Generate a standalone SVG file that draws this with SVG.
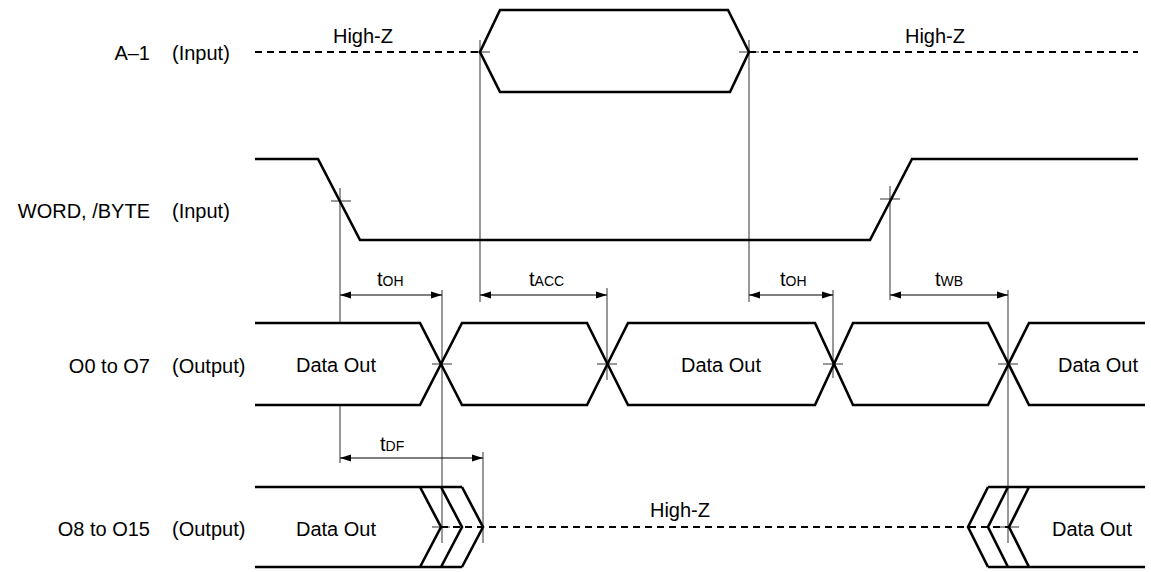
<svg xmlns="http://www.w3.org/2000/svg" width="1151" height="572" viewBox="0 0 1151 572">
<style>
.w{fill:none;stroke:#000;stroke-width:2.6;stroke-linejoin:miter}
.d{fill:none;stroke:#000;stroke-width:2.2;stroke-dasharray:7,5}
.r{fill:none;stroke:#555;stroke-width:1.2}
.k{fill:none;stroke:#333;stroke-width:1.2}
.a{fill:none;stroke:#000;stroke-width:1.2;marker-start:url(#ah);marker-end:url(#ah)}
text{font-family:"Liberation Sans",Arial,Helvetica,sans-serif;font-size:20px;fill:#000}
.e{text-anchor:end}
.m{text-anchor:middle}
.s{font-size:14px}
</style>
<defs>
<marker id="ah" markerUnits="userSpaceOnUse" markerWidth="12" markerHeight="8" refX="11" refY="4" orient="auto-start-reverse">
<path d="M0,0.5 L11,4 L0,7.5 z" fill="#000"/>
</marker>
</defs>
<g id="labels">
<text class="e" x="150" y="60">A–1</text><text x="172" y="60">(Input)</text>
<text class="e" x="150" y="218">WORD, /BYTE</text><text x="172" y="218">(Input)</text>
<text class="e" x="150" y="373">O0 to O7</text><text x="172" y="373">(Output)</text>
<text class="e" x="150" y="536">O8 to O15</text><text x="172" y="536">(Output)</text>
</g>
<g id="connectors">
<path class="r" d="M480,40 V302 M749,40 V302 M340,188 V323 M340,405 V463 M890,186 V300 M442,290 V543 M607,288 V380 M833,290 V378 M1008,290 V543 M483,452 V543"/>
<path class="k" d="M470,52 H490 M739,52 H759 M331,201 H351 M880,199 H900 M432,364 H452 M597,364 H617 M823,364 H843 M998,364 H1018 M432,527 H450 M999,527 H1019"/>
<path class="a" d="M340,295 H442"/>
<path class="a" d="M480,295 H607"/>
<path class="a" d="M749,295 H833"/>
<path class="a" d="M890,295 H1008"/>
<path class="a" d="M340,458 H483"/>
</g>
<g id="timing-labels">
<text x="377" y="286">t<tspan class="s">OH</tspan></text>
<text x="529" y="286">t<tspan class="s">ACC</tspan></text>
<text x="780" y="286">t<tspan class="s">OH</tspan></text>
<text x="935" y="286">t<tspan class="s">WB</tspan></text>
<text x="380" y="451">t<tspan class="s">DF</tspan></text>
</g>
<g id="a1">
<path class="d" d="M255,52 H480 M749,52 H1138"/>
<path class="w" d="M480,52 L500,10 H728 L749,52 L730,92 H500 Z"/>
<text class="m" x="363" y="43">High-Z</text>
<text class="m" x="935" y="43">High-Z</text>
</g>
<g id="word">
<path class="w" d="M255,159 H318 L360,240 H870 L912,159 H1138"/>
</g>
<g id="o0">
<path class="w" d="M255,323 H420 L462,405 H587 L628,323 H815 L853,405 H988 L1029,323 H1145"/>
<path class="w" d="M255,405 H420 L462,323 H587 L628,405 H815 L853,323 H988 L1029,405 H1145"/>
<text x="296" y="372">Data Out</text>
<text class="m" x="721" y="372">Data Out</text>
<text x="1058" y="372">Data Out</text>
</g>
<g id="o8">
<path class="d" d="M441,527 H1009"/>
<path class="w" d="M255,487 H462 M255,567 H462 M420,487 L441,527 L420,567 M441,487 L462,527 L441,567 M462,487 L483,527 L462,567"/>
<path class="w" d="M988,487 H1145 M988,567 H1145 M988,487 L968,527 L988,567 M1008,487 L988,527 L1008,567 M1029,487 L1009,527 L1029,567"/>
<text x="296" y="536">Data Out</text>
<text class="m" x="680" y="517">High-Z</text>
<text x="1052" y="536">Data Out</text>
</g>
</svg>
